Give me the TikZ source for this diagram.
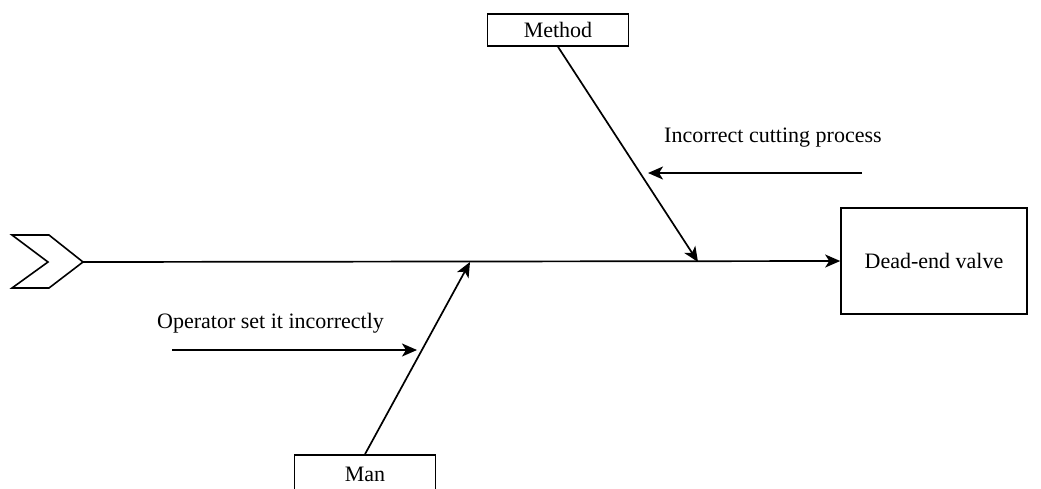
\documentclass[tikz,border=0pt]{standalone}
\usepackage{fontspec}
\setmainfont{Liberation Serif}
\usetikzlibrary{arrows.meta}
\begin{document}
\begin{tikzpicture}[x=1pt,y=-1pt,
  every node/.style={font=\fontsize{22}{26}\selectfont},
  cat/.style={draw,line width=1.6pt,minimum width=141pt,minimum height=32pt,inner sep=0pt},
  effect/.style={draw,line width=1.6pt,minimum width=186pt,minimum height=106pt,inner sep=0pt},
  cause/.style={inner sep=0pt,anchor=west},
  bone/.style={line width=1.7pt,-{Stealth[length=15pt,width=13pt,inset=4pt]}}
]
  \useasboundingbox (0,0) rectangle (1041,488);
  \clip (0,0) rectangle (1041,488);

  % tail of the fish
  \draw[line width=1.6pt,line join=miter]
    (12,235) -- (49,235) -- (83,262) -- (49,288) -- (12,288) -- (48,262) -- cycle;
  \coordinate (tail) at (83,262);

  % head and category boxes
  \node[effect] (head) at (934,261) {Dead-end valve};
  \node[cat] (method) at (558,30) {Method};
  \node[cat,minimum height=38pt] (man) at (365,474) {Man};

  % spine
  \draw[bone] (tail) -- (head.west);

  % branches meeting the spine
  \coordinate (mj) at (698,262);
  \coordinate (nj) at (470,262);
  \draw[bone] (method.south) -- (mj);
  \draw[bone] (man.north) -- (nj);

  % causes
  \node[cause] (c1) at (664,138) {Incorrect cutting process};
  \coordinate (c1s) at (862,173);
  \coordinate (c1e) at (648,173);
  \draw[bone] (c1s) -- (c1e);

  \node[cause] (c2) at (157,323) {Operator set it incorrectly};
  \coordinate (c2s) at (172,350);
  \coordinate (c2e) at (417,350);
  \draw[bone] (c2s) -- (c2e);
\end{tikzpicture}
\end{document}
